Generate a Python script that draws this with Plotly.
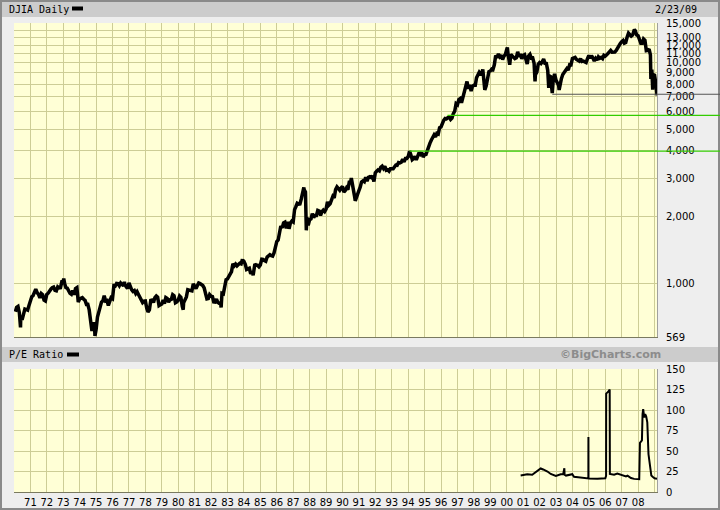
import numpy as np
import pandas as pd
import plotly.graph_objects as go

# ---------------- data ----------------
djia_first_month = "1970-01-31"
djia_monthly = [
    744.06, 777.59, 785.57, 736.07, 700.44, 683.53, 734.12, 764.58, 760.68, 755.61, 794.09, 838.92,
    868.50, 878.83, 904.37, 941.75, 907.81, 891.14, 858.43, 898.07, 887.19, 839.00, 831.34, 890.20,
    902.17, 928.13, 940.70, 954.17, 960.72, 929.03, 924.74, 963.73, 953.27, 955.52, 1018.21, 1020.02,
    999.02, 955.07, 951.01, 921.43, 901.41, 891.71, 926.40, 887.57, 947.10, 956.58, 822.25, 850.86,
    855.55, 860.53, 846.68, 836.75, 802.17, 802.41, 757.43, 678.58, 607.87, 665.52, 618.66, 616.24,
    703.69, 739.05, 768.15, 821.34, 832.29, 878.99, 831.51, 835.34, 793.88, 836.04, 860.67, 852.41,
    975.28, 972.61, 999.45, 996.85, 975.23, 1002.78, 984.64, 973.74, 990.19, 964.93, 947.22, 1004.65,
    954.37, 936.42, 919.13, 926.90, 898.66, 916.30, 890.07, 861.49, 847.11, 818.35, 829.70, 831.17,
    769.92, 742.12, 757.36, 837.32, 840.61, 818.95, 862.27, 876.82, 865.82, 792.45, 799.03, 805.01,
    839.22, 808.82, 862.18, 854.90, 822.33, 841.98, 846.42, 887.63, 878.58, 815.70, 822.35, 838.74,
    875.85, 863.14, 785.75, 817.06, 850.85, 867.92, 935.32, 932.59, 932.42, 924.49, 993.34, 963.99,
    947.27, 974.58, 1003.87, 997.75, 991.75, 976.88, 952.34, 881.47, 849.98, 852.55, 888.98, 875.00,
    871.10, 824.39, 822.77, 848.36, 819.54, 811.93, 808.60, 901.31, 896.25, 991.72, 1039.28, 1046.54,
    1075.70, 1112.62, 1130.03, 1226.20, 1199.98, 1221.96, 1199.22, 1216.16, 1233.13, 1225.20, 1276.02, 1258.64,
    1220.58, 1154.63, 1164.89, 1170.75, 1104.85, 1132.40, 1115.28, 1224.38, 1206.71, 1207.38, 1188.94, 1211.57,
    1286.77, 1284.01, 1266.78, 1258.06, 1315.41, 1335.46, 1347.45, 1334.01, 1328.63, 1374.31, 1472.13, 1546.67,
    1570.99, 1709.06, 1818.61, 1783.98, 1876.71, 1892.72, 1775.31, 1898.34, 1767.58, 1877.81, 1914.23, 1895.95,
    2158.04, 2223.99, 2304.69, 2286.36, 2291.57, 2418.53, 2572.07, 2662.95, 2596.28, 1993.53, 1833.55, 1938.83,
    1958.22, 2071.62, 1988.06, 2032.33, 2031.12, 2141.71, 2128.73, 2031.65, 2112.91, 2148.65, 2114.51, 2168.57,
    2342.32, 2258.39, 2293.62, 2418.80, 2480.15, 2440.06, 2660.66, 2737.27, 2692.82, 2645.08, 2706.27, 2753.20,
    2590.54, 2627.25, 2707.21, 2656.76, 2876.66, 2880.69, 2905.20, 2614.36, 2452.48, 2442.33, 2559.65, 2633.66,
    2736.39, 2882.18, 2913.86, 2887.87, 3027.50, 2906.75, 3024.82, 3043.60, 3016.77, 3069.10, 2894.68, 3168.83,
    3223.40, 3267.70, 3235.50, 3359.10, 3396.90, 3318.50, 3393.80, 3257.40, 3271.70, 3226.30, 3305.20, 3301.10,
    3310.00, 3370.80, 3435.10, 3427.60, 3527.40, 3516.10, 3539.50, 3651.20, 3555.10, 3680.60, 3683.90, 3754.10,
    3978.40, 3832.00, 3635.96, 3681.69, 3758.37, 3624.96, 3764.50, 3913.42, 3843.19, 3908.12, 3739.23, 3834.44,
    3843.86, 4011.05, 4157.69, 4321.27, 4465.14, 4556.10, 4708.47, 4610.56, 4789.08, 4755.48, 5074.49, 5117.12,
    5395.30, 5485.62, 5587.14, 5569.08, 5643.18, 5654.63, 5528.91, 5616.21, 5882.17, 6029.38, 6521.70, 6448.27,
    6813.09, 6877.74, 6583.48, 7008.99, 7331.04, 7672.79, 8222.61, 7622.42, 7945.26, 7442.08, 7823.13, 7908.25,
    7906.50, 8545.72, 8799.81, 9063.37, 8899.95, 8952.02, 8883.29, 7539.07, 7842.62, 8592.10, 9116.55, 9181.43,
    9358.83, 9306.58, 9786.16, 10789.04, 10559.74, 10970.80, 10655.15, 10829.28, 10336.95, 10729.94, 10877.81, 11497.12,
    10940.53, 10128.31, 10921.92, 10733.91, 10522.33, 10447.89, 10521.98, 11215.10, 10650.92, 10971.14, 10414.49, 10787.99,
    10887.36, 10495.28, 9878.78, 10734.97, 10911.94, 10502.40, 10522.81, 9949.75, 8847.56, 9075.14, 9851.56, 10021.50,
    9920.00, 10106.13, 10403.94, 9946.22, 9925.25, 9243.26, 8736.59, 8663.50, 7591.93, 8397.03, 8896.09, 8341.63,
    8053.81, 7891.08, 7992.13, 8480.09, 8850.26, 8985.44, 9233.80, 9415.82, 9275.06, 9801.12, 9782.46, 10453.92,
    10488.07, 10583.92, 10357.70, 10225.57, 10188.45, 10435.48, 10139.71, 10173.92, 10080.27, 10027.47, 10428.02, 10783.01,
    10489.94, 10766.23, 10503.76, 10192.51, 10467.48, 10274.97, 10640.91, 10481.60, 10568.70, 10440.07, 10805.87, 10717.50,
    10864.86, 10993.41, 11109.32, 11367.14, 11168.31, 11150.22, 11185.68, 11381.15, 11679.07, 12080.73, 12221.93, 12463.15,
    12621.69, 12268.63, 12354.35, 13062.91, 13627.64, 13408.62, 13211.99, 13357.74, 13895.63, 13930.01, 13371.72, 13264.82,
    12650.36, 12266.39, 12262.89, 12820.13, 12638.32, 11350.01, 11378.02, 11543.55, 10850.66, 9325.01, 8829.04, 8776.39,
    8000.86,
]
djia_extreme_dates = [
    "1970-05-26", "1973-01-11", "1974-12-06", "1976-09-21", "1980-04-21", "1982-08-12",
    "1983-11-29", "1984-07-24", "1987-08-25", "1987-10-19", "1987-10-20", "1990-07-16",
    "1990-10-11", "1998-07-17", "2000-01-14", "2000-03-07", "2001-09-21", "2002-07-23",
    "2002-10-09", "2003-03-11", "2007-10-09", "2008-10-10", "2008-11-20", "2009-02-23",
]
djia_extreme_values = [
    631.16, 1051.70, 577.60, 1014.79, 759.13, 776.92,
    1287.20, 1086.57, 2722.42, 1738.74, 1841.01, 2999.75,
    2365.10, 9337.97, 11722.98, 9796.03, 8235.81, 7702.34,
    7286.27, 7524.06, 14164.53, 8451.19, 7552.29, 7114.78,
]

pe_dates = [
    "2000-11-05", "2001-04-01", "2001-07-20", "2001-10-05", "2001-12-20", "2002-01-25",
    "2002-03-20", "2002-06-25", "2002-09-05", "2002-12-28", "2003-04-15", "2003-06-10",
    "2003-07-05", "2003-07-10", "2003-08-10", "2003-12-28", "2004-02-05", "2004-07-05",
    "2004-12-10", "2004-12-20", "2004-12-21", "2004-12-23", "2005-07-10", "2006-01-01",
    "2006-01-18", "2006-01-20", "2006-03-01", "2006-04-08", "2006-04-12", "2006-07-15",
    "2006-09-25", "2006-12-15", "2007-01-20", "2007-04-05", "2007-05-10", "2007-07-25",
    "2007-10-05", "2007-12-15", "2008-01-25", "2008-02-10", "2008-03-25", "2008-04-08",
    "2008-04-22", "2008-05-15", "2008-06-05", "2008-06-28", "2008-07-22", "2008-08-18",
    "2008-09-20", "2008-10-20", "2008-11-18", "2008-12-31", "2009-02-23",
]
pe_values = [
    20, 21.5, 21, 23.8, 27, 28.7,
    27.5, 25, 22, 19.7, 21.7, 22,
    29, 21, 20, 21.7, 18.6, 17.4,
    16.4, 16.5, 67, 16.5, 16.3, 16.8,
    19.7, 120, 122, 125, 22, 21,
    22.5, 21.3, 20.5, 19, 20, 17,
    16, 15.3, 15.5, 60, 63, 95,
    101, 91, 95, 92, 85, 46,
    30, 20, 18.6, 16.8, 16,
]

djia_ticks = [569, 1000, 2000, 3000, 4000, 5000, 6000, 7000, 8000, 9000,
              10000, 11000, 12000, 13000, 14000, 15000]
djia_tick_labels = ["569", "1,000", "2,000", "3,000", "4,000", "5,000", "6,000", "7,000",
                    "8,000", "9,000", "10,000", "11,000", "12,000", "13,000", "", "15,000"]
pe_ticks = [0, 25, 50, 75, 100, 125, 150]
year_ticks = list(range(1971, 2010))
year_labels = [f"{y % 100:02d}" for y in range(1971, 2009)] + [""]

# reference levels: (value, start date)
level_lines_green = [(3978.36, "1994-01-31"), (5778.00, "1996-05-22")]
level_line_gray = (7200.0, "2002-10-09")

x_start, x_end = "1970-01-01", "2009-02-23"
title_text, date_text = "DJIA Daily", "2/23/09"
pe_title = "P/E Ratio"
credit = "\u00a9BigCharts.com"

# ---------------- build ----------------
try:
    mdates = pd.date_range(djia_first_month, periods=len(djia_monthly), freq="ME")
except Exception:
    mdates = pd.date_range(djia_first_month, periods=len(djia_monthly), freq="M")
djia = pd.concat([
    pd.Series(djia_monthly, index=mdates),
    pd.Series(djia_extreme_values, index=pd.to_datetime(djia_extreme_dates)),
]).sort_index()

W, H = 720, 510
ML, MR, MT, MB = 14, 63, 23, 18
PW, PH = W - ML - MR, H - MT - MB


def px(x):
    return (x - ML) / PW


def py(y):
    return (H - MB - y) / PH


BG = "#eeeeee"
PLOT_BG = "#ffffd6"
GRID = "#cdcd96"
BAR = "#cccccc"
tickfont = dict(family="DejaVu Sans", size=10, color="black")
mono = dict(family="DejaVu Sans Mono", size=10, color="black")

fig = go.Figure()
fig.add_trace(go.Scatter(x=djia.index, y=djia.values, mode="lines",
                         line=dict(color="black", width=3.5), xaxis="x", yaxis="y",
                         showlegend=False, hoverinfo="skip"))
fig.add_trace(go.Scatter(x=pd.to_datetime(pe_dates), y=pe_values, mode="lines",
                         line=dict(color="black", width=2), xaxis="x2", yaxis="y2",
                         showlegend=False, hoverinfo="skip"))

tickdates = [f"{y}-01-01" for y in year_ticks]
common_x = dict(type="date", range=[x_start, x_end], tickmode="array", tickvals=tickdates,
                showgrid=True, gridcolor=GRID, gridwidth=1, ticks="", zeroline=False,
                showline=True, linecolor="#7a7a60", linewidth=1, fixedrange=True,
                automargin=False)

fig.update_layout(
    width=W, height=H, autosize=False,
    margin=dict(l=ML, r=MR, t=MT, b=MB, pad=0, autoexpand=False),
    paper_bgcolor=BG, plot_bgcolor=PLOT_BG,
    showlegend=False,
    xaxis=dict(domain=[0, 1], anchor="y", showticklabels=False, **common_x),
    xaxis2=dict(domain=[0, 1], anchor="y2", showticklabels=True, ticktext=year_labels,
                tickfont=tickfont, ticklabelstandoff=1, **common_x),
    yaxis=dict(domain=[py(337.4), 1], anchor="x", type="log", side="right",
               range=[np.log10(568.5), np.log10(15150)],
               tickmode="array", tickvals=djia_ticks, ticktext=djia_tick_labels,
               showgrid=True, gridcolor=GRID, gridwidth=1, ticks="", zeroline=False,
               showline=True, linecolor="#a0a0a0", linewidth=1, automargin=False,
               tickfont=tickfont, ticklabelstandoff=6, fixedrange=True),
    yaxis2=dict(domain=[0, py(369)], anchor="x2", side="right", range=[0, 150],
                tickmode="array", tickvals=pe_ticks,
                showgrid=True, gridcolor=GRID, gridwidth=1, ticks="", zeroline=False,
                showline=True, linecolor="#a0a0a0", linewidth=1, automargin=False,
                tickfont=tickfont, ticklabelstandoff=6, fixedrange=True),
)

shapes = []
# outer frame
shapes.append(dict(type="rect", xref="paper", yref="paper", x0=px(1), x1=px(719),
                   y0=py(509), y1=py(1), line=dict(color="#8a8a8a", width=2),
                   fillcolor="rgba(0,0,0,0)", layer="above"))
# title bars
for top, bot in [(2, 17), (347, 362)]:
    shapes.append(dict(type="rect", xref="paper", yref="paper", x0=px(2), x1=px(718),
                       y0=py(bot), y1=py(top), line=dict(width=0), fillcolor=BAR,
                       layer="above"))
# legend swatches
shapes.append(dict(type="rect", xref="paper", yref="paper", x0=px(72), x1=px(83),
                   y0=py(10.5), y1=py(6.5), line=dict(width=0), fillcolor="black"))
shapes.append(dict(type="rect", xref="paper", yref="paper", x0=px(67), x1=px(79),
                   y0=py(356.5), y1=py(352.5), line=dict(width=0), fillcolor="black"))
# level lines: inside plot (data coords) + extension into right margin
for (val, d0), col in [(level_lines_green[0], "#33cc00"), (level_lines_green[1], "#33cc00"),
                       (level_line_gray, "#555555")]:
    shapes.append(dict(type="line", xref="x", yref="y", x0=d0, x1=x_end, y0=val, y1=val,
                       line=dict(color=col, width=1.2), layer="above"))
    shapes.append(dict(type="line", xref="paper", yref="y", x0=1, x1=px(720), y0=val, y1=val,
                       line=dict(color=col, width=1.2), layer="above"))
fig.update_layout(shapes=shapes)

annotations = [
    dict(text=title_text, x=px(7), y=py(9.5), xanchor="left", yanchor="middle", font=mono),
    dict(text=date_text, x=px(699), y=py(9.5), xanchor="right", yanchor="middle", font=mono),
    dict(text=pe_title, x=px(7), y=py(354.5), xanchor="left", yanchor="middle", font=mono),
    dict(text="<b>" + credit + "</b>", x=px(610), y=py(354.5), xanchor="center",
         yanchor="middle", font=dict(family="DejaVu Sans", size=11, color="#8c8c8c")),
]
for a in annotations:
    a.update(xref="paper", yref="paper", showarrow=False)
fig.update_layout(annotations=annotations)

fig.write_html("out.html",
               config={"displayModeBar": False, "responsive": False},
               post_script="document.body.style.margin='0px';document.body.style.padding='0px';")
